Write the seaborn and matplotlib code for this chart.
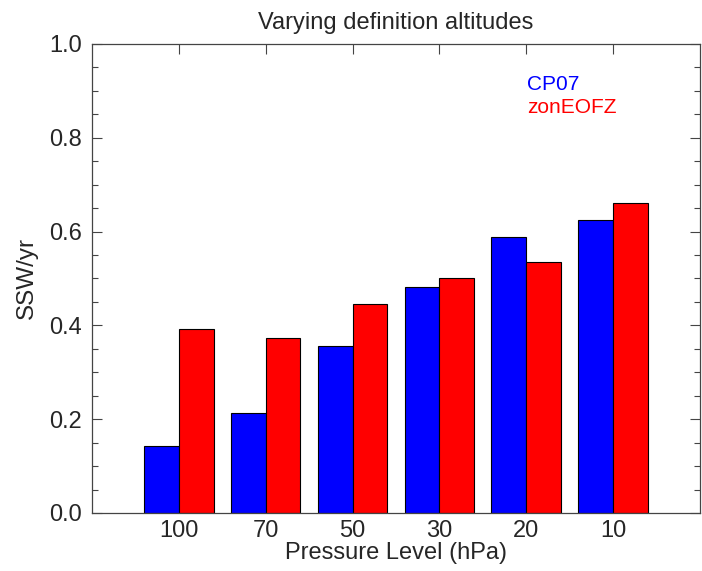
import numpy as np
import pandas as pd
import matplotlib
matplotlib.use("Agg")
import matplotlib.pyplot as plt
from matplotlib.ticker import MultipleLocator
import seaborn as sb

# values
levels = ["100", "70", "50", "30", "20", "10"]
cp07 = [0.143, 0.214, 0.357, 0.482, 0.588, 0.625]
zoneofz = [0.392, 0.374, 0.446, 0.500, 0.536, 0.660]
series_names = ["CP07", "zonEOFZ"]
colors = {"CP07": "#0000FF", "zonEOFZ": "#FF0000"}


def main():
    rows = []
    for lev, a, b in zip(levels, cp07, zoneofz):
        rows += [[lev, a, "CP07"], [lev, b, "zonEOFZ"]]
    df = pd.DataFrame(rows, columns=["Pressure Level", "SSW/yr", "Definition"])

    sb.set_style("white")
    plt.rcParams["font.family"] = ["Liberation Sans", "DejaVu Sans"]

    fig = plt.figure(figsize=(7.02, 5.71), dpi=100)
    ax = fig.add_axes([0.131, 0.1016, 0.866, 0.8214])

    sb.barplot(ax=ax, data=df, x="Pressure Level", y="SSW/yr", hue="Definition",
               order=levels, hue_order=series_names, palette=colors,
               width=0.8, edgecolor="black", linewidth=0.8, saturation=1,
               legend=False)

    ax.set_xlim(-1, 6)
    ax.set_ylim(0, 1.0)
    ax.yaxis.set_major_locator(MultipleLocator(0.2))
    ax.yaxis.set_minor_locator(MultipleLocator(0.05))
    ax.yaxis.set_major_formatter(matplotlib.ticker.FormatStrFormatter("%.1f"))
    ax.tick_params(axis="both", which="both", direction="in", top=True, right=True,
                   left=True, bottom=True, labelsize=17, color="#444444")
    ax.tick_params(axis="both", which="major", length=7, width=0.8)
    ax.tick_params(axis="y", which="minor", length=4, width=0.8)
    ax.tick_params(axis="x", which="major", pad=5)
    ax.tick_params(axis="y", which="major", pad=7)
    for s in ax.spines.values():
        s.set_color("#444444")
        s.set_linewidth(0.9)

    ax.set_xlabel("Pressure Level (hPa)", fontsize=17, labelpad=0)
    ax.set_ylabel("SSW/yr", fontsize=17.5, labelpad=8)
    ax.set_title("Varying definition altitudes", fontsize=17, pad=11)

    ax.text(0.715, 0.914, "CP07", color=colors["CP07"], fontsize=15,
            transform=ax.transAxes, va="center", ha="left")
    ax.text(0.715, 0.865, "zonEOFZ", color=colors["zonEOFZ"], fontsize=15,
            transform=ax.transAxes, va="center", ha="left")

    plt.savefig("out.png", dpi=100)


if __name__ == "__main__":
    main()
